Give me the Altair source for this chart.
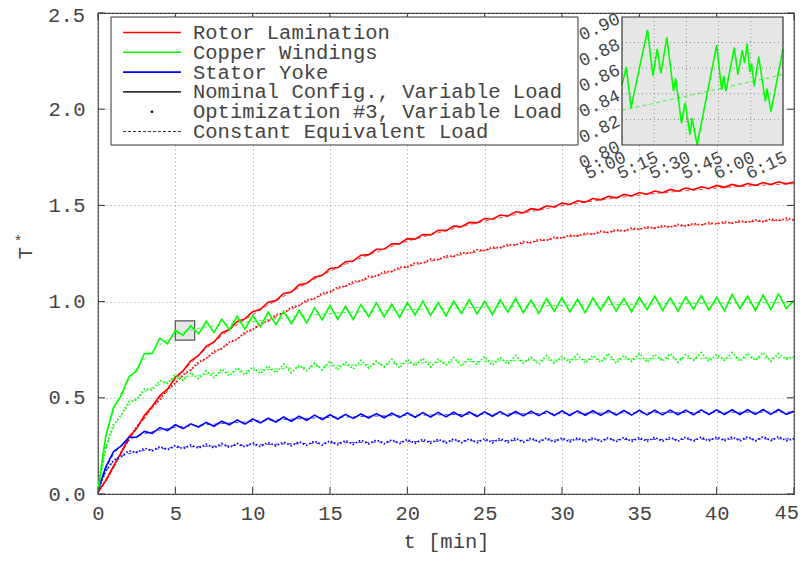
import altair as alt
import pandas as pd

# ---------------- data ----------------
t_fine = [i * 0.5 for i in range(91)]  # sampling grid, minutes
t_coarse = [0, 0.5, 1, 1.5, 2, 3, 4, 5, 6, 7, 8, 10, 12, 15, 17.5, 20, 22.5, 25,
            27.5, 30, 32.5, 35, 37.5, 40, 42.5, 45]

rotor_nominal = [0.01, 0.07, 0.145, 0.215, 0.296, 0.34, 0.41, 0.455, 0.512, 0.545,
                 0.606, 0.64, 0.692, 0.72, 0.767, 0.79, 0.837, 0.855, 0.897, 0.91,
                 0.947, 0.96, 0.997, 1.005, 1.042, 1.05, 1.087, 1.095, 1.127, 1.137,
                 1.172, 1.177, 1.207, 1.211, 1.241, 1.244, 1.272, 1.273, 1.30, 1.301,
                 1.327, 1.325, 1.349, 1.347, 1.371, 1.369, 1.392, 1.389, 1.412, 1.409,
                 1.432, 1.428, 1.45, 1.445, 1.467, 1.462, 1.483, 1.477, 1.498, 1.492,
                 1.512, 1.505, 1.524, 1.517, 1.536, 1.529, 1.547, 1.539, 1.557, 1.549,
                 1.567, 1.558, 1.575, 1.566, 1.583, 1.574, 1.59, 1.581, 1.597, 1.588,
                 1.604, 1.594, 1.609, 1.599, 1.614, 1.604, 1.619, 1.608, 1.623, 1.612,
                 1.622]
rotor_opt3 = [0.01, 0.068, 0.138, 0.218, 0.282, 0.35, 0.396, 0.456, 0.49, 0.547,
              0.575, 0.621, 0.645, 0.686, 0.705, 0.741, 0.755, 0.79, 0.804, 0.841,
              0.855, 0.887, 0.9, 0.931, 0.94, 0.97, 0.98, 1.009, 1.015, 1.043,
              1.05, 1.076, 1.079, 1.104, 1.107, 1.131, 1.132, 1.155, 1.156, 1.179,
              1.18, 1.201, 1.20, 1.22, 1.218, 1.238, 1.235, 1.254, 1.251, 1.269,
              1.265, 1.283, 1.279, 1.297, 1.293, 1.311, 1.306, 1.323, 1.318, 1.335,
              1.33, 1.346, 1.34, 1.356, 1.35, 1.366, 1.359, 1.374, 1.367, 1.382,
              1.375, 1.389, 1.381, 1.395, 1.387, 1.401, 1.393, 1.406, 1.398, 1.411,
              1.403, 1.416, 1.407, 1.42, 1.412, 1.425, 1.416, 1.429, 1.42, 1.433,
              1.424]
copper_nominal = [0.02, 0.30, 0.45, 0.51, 0.61, 0.64, 0.73, 0.73, 0.81, 0.78,
                  0.85, 0.825, 0.875, 0.832, 0.898, 0.839, 0.909, 0.854, 0.923, 0.857,
                  0.926, 0.87, 0.945, 0.88, 0.95, 0.885, 0.955, 0.89, 0.968, 0.906,
                  0.98, 0.907, 0.975, 0.907, 0.985, 0.922, 0.993, 0.92, 0.986, 0.918,
                  0.995, 0.931, 1.002, 0.928, 0.995, 0.926, 1.002, 0.938, 1.01, 0.936,
                  1.002, 0.933, 1.009, 0.945, 1.016, 0.942, 1.008, 0.939, 1.015, 0.95,
                  1.02, 0.946, 1.012, 0.943, 1.019, 0.955, 1.025, 0.951, 1.016, 0.947,
                  1.022, 0.958, 1.028, 0.954, 1.019, 0.95, 1.025, 0.96, 1.031, 0.956,
                  1.022, 0.952, 1.038, 0.963, 1.028, 0.954, 1.034, 0.959, 1.04, 0.965,
                  1.005]
copper_opt3 = [0.02, 0.24, 0.36, 0.41, 0.48, 0.49, 0.545, 0.54, 0.59, 0.575,
               0.62, 0.59, 0.63, 0.60, 0.64, 0.605, 0.65, 0.615, 0.655, 0.62,
               0.66, 0.625, 0.665, 0.63, 0.675, 0.63, 0.67, 0.64, 0.68, 0.645,
               0.69, 0.645, 0.685, 0.65, 0.695, 0.655, 0.69, 0.66, 0.70, 0.655,
               0.70, 0.665, 0.705, 0.66, 0.70, 0.67, 0.71, 0.665, 0.705, 0.675,
               0.715, 0.67, 0.71, 0.675, 0.72, 0.68, 0.71, 0.675, 0.72, 0.68,
               0.715, 0.685, 0.725, 0.68, 0.72, 0.685, 0.73, 0.68, 0.72, 0.69,
               0.73, 0.685, 0.725, 0.69, 0.73, 0.685, 0.725, 0.695, 0.735, 0.69,
               0.725, 0.695, 0.735, 0.69, 0.73, 0.695, 0.735, 0.69, 0.73, 0.70,
               0.715]
yoke_nominal = [0.02, 0.14, 0.22, 0.25, 0.295, 0.295, 0.325, 0.315, 0.345, 0.33,
                0.36, 0.34, 0.365, 0.348, 0.372, 0.352, 0.378, 0.36, 0.385, 0.363,
                0.39, 0.37, 0.394, 0.374, 0.40, 0.378, 0.404, 0.383, 0.41, 0.387,
                0.412, 0.39, 0.414, 0.393, 0.416, 0.395, 0.418, 0.396, 0.42, 0.398,
                0.422, 0.399, 0.423, 0.40, 0.424, 0.401, 0.425, 0.402, 0.426, 0.403,
                0.427, 0.404, 0.428, 0.405, 0.429, 0.406, 0.43, 0.407, 0.431, 0.408,
                0.432, 0.408, 0.432, 0.409, 0.433, 0.409, 0.434, 0.41, 0.434, 0.41,
                0.435, 0.411, 0.435, 0.411, 0.436, 0.412, 0.436, 0.412, 0.437, 0.413,
                0.437, 0.413, 0.438, 0.413, 0.438, 0.414, 0.439, 0.414, 0.439, 0.414,
                0.43]
yoke_opt3 = [0.02, 0.12, 0.175, 0.195, 0.225, 0.215, 0.238, 0.225, 0.246, 0.23,
             0.252, 0.235, 0.255, 0.238, 0.258, 0.24, 0.262, 0.242, 0.263, 0.245,
             0.266, 0.246, 0.268, 0.25, 0.27, 0.251, 0.272, 0.253, 0.275, 0.255,
             0.276, 0.256, 0.278, 0.258, 0.28, 0.26, 0.281, 0.261, 0.282, 0.262,
             0.284, 0.263, 0.285, 0.264, 0.285, 0.265, 0.287, 0.266, 0.287, 0.267,
             0.288, 0.267, 0.289, 0.268, 0.29, 0.269, 0.29, 0.27, 0.291, 0.27,
             0.292, 0.271, 0.292, 0.271, 0.293, 0.272, 0.293, 0.272, 0.294, 0.273,
             0.294, 0.273, 0.295, 0.274, 0.295, 0.274, 0.296, 0.275, 0.296, 0.275,
             0.297, 0.276, 0.297, 0.276, 0.298, 0.276, 0.298, 0.277, 0.298, 0.277,
             0.288]

rotor_nominal_const = [0.01, 0.068, 0.138, 0.212, 0.285, 0.40, 0.503, 0.594, 0.68, 0.755,
                       0.822, 0.932, 1.027, 1.158, 1.242, 1.313, 1.368, 1.418, 1.46,
                       1.498, 1.528, 1.553, 1.573, 1.59, 1.603, 1.613]
rotor_opt3_const = [0.01, 0.066, 0.138, 0.21, 0.28, 0.395, 0.49, 0.575, 0.645, 0.705,
                    0.757, 0.855, 0.94, 1.05, 1.12, 1.18, 1.227, 1.267, 1.302, 1.332,
                    1.357, 1.377, 1.393, 1.405, 1.416, 1.425]
copper_nominal_const = [0.02, 0.29, 0.43, 0.525, 0.595, 0.70, 0.775, 0.827, 0.852, 0.868,
                        0.879, 0.897, 0.915, 0.938, 0.95, 0.958, 0.965, 0.971, 0.976,
                        0.98, 0.984, 0.987, 0.99, 0.992, 0.994, 0.995]
copper_opt3_const = [0.02, 0.23, 0.345, 0.41, 0.46, 0.53, 0.57, 0.597, 0.612, 0.622,
                     0.63, 0.642, 0.652, 0.666, 0.673, 0.68, 0.685, 0.69, 0.694, 0.697,
                     0.70, 0.702, 0.704, 0.706, 0.707, 0.708]
yoke_nominal_const = [0.02, 0.13, 0.205, 0.25, 0.28, 0.312, 0.332, 0.346, 0.354, 0.36,
                      0.366, 0.377, 0.387, 0.398, 0.404, 0.409, 0.412, 0.415, 0.417,
                      0.419, 0.421, 0.422, 0.423, 0.424, 0.425, 0.426]
yoke_opt3_const = [0.02, 0.115, 0.168, 0.195, 0.21, 0.226, 0.235, 0.242, 0.245, 0.248,
                   0.25, 0.255, 0.26, 0.265, 0.269, 0.272, 0.275, 0.277, 0.279, 0.281,
                   0.282, 0.283, 0.284, 0.285, 0.286, 0.287]

# inset (Copper Windings, nominal, 5:00 - 6:15), time in seconds
inset_t = [300, 302, 304.2, 311.9, 314.4, 316.4, 318.1, 320.9, 324, 325, 327.7, 329.4,
           331.7, 332.6, 335, 344.1, 346.4, 347.4, 348.4, 352.3, 354, 356, 357.1, 358.3,
           359.5, 360.3, 361.6, 363.7, 366.8, 367.6, 369.4, 375]
inset_v = [0.847, 0.861, 0.829, 0.890, 0.854, 0.875, 0.856, 0.884, 0.842, 0.852, 0.817,
           0.833, 0.808, 0.821, 0.800, 0.878, 0.843, 0.854, 0.842, 0.876, 0.855, 0.874,
           0.864, 0.879, 0.857, 0.864, 0.846, 0.869, 0.834, 0.844, 0.826, 0.875]
inset_const_t = [300, 375]
inset_const_v = [0.827, 0.855]

x_ticks = [0, 5, 10, 15, 20, 25, 30, 35, 40, 45]
y_ticks = [0.0, 0.5, 1.0, 1.5, 2.0, 2.5]
inset_x_ticks = [300, 315, 330, 345, 360, 375]
inset_x_labels = ["5:00", "5:15", "5:30", "5:45", "6:00", "6:15"]
inset_y_ticks = [0.80, 0.82, 0.84, 0.86, 0.88, 0.90]

legend_labels = ["Rotor Lamination", "Copper Windings", "Stator Yoke",
                 "Nominal Config., Variable Load", "Optimization #3, Variable Load",
                 "Constant Equivalent Load"]

# ---------------- styling ----------------
FONT = "Liberation Mono"
FS = 20.5
TXT = "#444444"
FRAME = "#333333"
W, H = 696, 481
RED, GREEN, BLUE = "#ff0000", "#00ff00", "#0000ff"

xs = alt.Scale(domain=[0, 45], nice=False, zero=False)
ys = alt.Scale(domain=[0, 2.5], nice=False, zero=False)
# last x label (45) and top y label (2.5) are drawn separately, nudged to stay on the page
xax = alt.Axis(values=x_ticks, title="t [min]", grid=True,
               labelExpr="datum.value >= 45 ? '' : format(datum.value, 'd')",
               gridDash=[1, 3], gridColor="#999999", gridWidth=1, domain=False,
               ticks=False, tickSize=0, labelFont=FONT, labelFontSize=FS,
               labelColor=TXT, labelPadding=9, labelFlush=False, titleFont=FONT,
               titleFontSize=FS, titleFontWeight="normal", titleColor=TXT,
               titlePadding=8)
yax = alt.Axis(values=y_ticks, title="", grid=True,
               labelExpr="datum.value >= 2.5 ? '' : format(datum.value, '.1f')",
               gridDash=[1, 3], gridColor="#999999", gridWidth=1, domain=False,
               ticks=False, tickSize=0, labelFont=FONT, labelFontSize=FS,
               labelColor=TXT, labelPadding=13, labelFlush=False)


def X(f="t:Q"):
    return alt.X(f, scale=xs, axis=xax)


def Y(f="v:Q"):
    return alt.Y(f, scale=ys, axis=yax)


def line(tl, vl, color, dash=None, width=1.5, opacity=1.0, interp="linear"):
    df = pd.DataFrame({"t": tl, "v": vl})
    kw = dict(color=color, strokeWidth=width, opacity=opacity, clip=True,
              interpolate=interp)
    if dash:
        kw["strokeDash"] = dash
    return alt.Chart(df).mark_line(**kw).encode(x=X(), y=Y())


main_layers = []

# zoom box
zb = pd.DataFrame({"x0": [inset_x_ticks[0] / 60], "x1": [inset_x_ticks[-1] / 60],
                   "y0": [inset_y_ticks[0]], "y1": [inset_y_ticks[-1]]})
main_layers.append(alt.Chart(zb).mark_rect(fill="#e6e6e6", stroke="#555555",
                                           strokeWidth=1.2)
                   .encode(x=X("x0:Q"), x2="x1", y=Y("y0:Q"), y2="y1"))

series = [
    (rotor_nominal, rotor_opt3, rotor_nominal_const, rotor_opt3_const, RED),
    (yoke_nominal, yoke_opt3, yoke_nominal_const, yoke_opt3_const, BLUE),
    (copper_nominal, copper_opt3, copper_nominal_const, copper_opt3_const, GREEN),
]
for nom, opt, nomc, optc, col in series:
    main_layers.append(line(t_coarse, nomc, col, dash=[4, 3], width=1, opacity=0.75,
                            interp="monotone"))
    main_layers.append(line(t_coarse, optc, col, dash=[4, 3], width=1, opacity=0.75,
                            interp="monotone"))
    main_layers.append(line(t_fine, opt, col, dash=[1.5, 2], width=1.8))
    main_layers.append(line(t_fine, nom, col, width=1.6))

# inward ticks (mirrored)
xt = pd.DataFrame({"t": x_ticks})
yt = pd.DataFrame({"v": y_ticks})
main_layers.append(alt.Chart(xt).mark_rule(color=FRAME, strokeWidth=1)
                   .encode(x=X(), y=alt.value(H), y2=alt.value(H - 7)))
main_layers.append(alt.Chart(xt).mark_rule(color=FRAME, strokeWidth=1)
                   .encode(x=X(), y=alt.value(0), y2=alt.value(7)))
main_layers.append(alt.Chart(yt).mark_rule(color=FRAME, strokeWidth=1)
                   .encode(y=Y(), x=alt.value(0), x2=alt.value(7)))
main_layers.append(alt.Chart(yt).mark_rule(color=FRAME, strokeWidth=1)
                   .encode(y=Y(), x=alt.value(W - 7), x2=alt.value(W)))

# edge labels
top_lab = pd.DataFrame({"v": [y_ticks[-1]], "lab": [f"{y_ticks[-1]:.1f}"]})
main_layers.append(alt.Chart(top_lab).mark_text(align="right", baseline="middle",
                                                font=FONT, fontSize=FS, color=TXT, dy=3)
                   .encode(y=Y(), x=alt.value(-13), text="lab:N"))
last_lab = pd.DataFrame({"t": [x_ticks[-1]], "lab": [str(x_ticks[-1])]})
main_layers.append(alt.Chart(last_lab).mark_text(align="right", baseline="top",
                                                 font=FONT, fontSize=FS, color=TXT,
                                                 dx=5)
                   .encode(x=X(), y=alt.value(H + 9), text="lab:N"))

# legend
one = pd.DataFrame({"a": [0]})
main_layers.append(alt.Chart(one).mark_rect(fill="white", stroke=FRAME, strokeWidth=1)
                   .encode(x=alt.value(13), x2=alt.value(480), y=alt.value(4),
                           y2=alt.value(132)))
legend_styles = [("line", RED), ("line", GREEN), ("line", BLUE), ("line", "#333333"),
                 ("dot", "#000000"), ("dash", "#333333")]
for i, (lab, (kind, col)) in enumerate(zip(legend_labels, legend_styles)):
    yy = 19.5 + 19.8 * i
    if kind == "line":
        main_layers.append(alt.Chart(one).mark_rule(color=col, strokeWidth=1.6)
                           .encode(x=alt.value(25), x2=alt.value(83), y=alt.value(yy)))
    elif kind == "dash":
        main_layers.append(alt.Chart(one).mark_rule(color=col, strokeWidth=1,
                                                    strokeDash=[3, 2])
                           .encode(x=alt.value(25), x2=alt.value(83), y=alt.value(yy)))
    else:
        main_layers.append(alt.Chart(one).mark_circle(color=col, size=7, opacity=1)
                           .encode(x=alt.value(54), y=alt.value(yy)))
    main_layers.append(alt.Chart(one).mark_text(align="left", baseline="alphabetic",
                                                font=FONT, fontSize=FS, color=TXT)
                       .encode(x=alt.value(95), y=alt.value(yy + 6.5),
                               text=alt.value(lab)))

# y title T*
main_layers.append(alt.Chart(one).mark_text(angle=270, align="center", baseline="middle",
                                            font=FONT, fontSize=FS, color=TXT)
                   .encode(x=alt.value(-72), y=alt.value(240), text=alt.value("T")))
main_layers.append(alt.Chart(one).mark_text(align="center", baseline="middle",
                                            font=FONT, fontSize=15, color=TXT)
                   .encode(x=alt.value(-80), y=alt.value(228), text=alt.value("*")))

main = alt.layer(*main_layers)

# ---------------- inset ----------------
IX0, IX1, IY0, IY1 = 524, 685, 4, 132
ixs = alt.Scale(domain=[inset_x_ticks[0], inset_x_ticks[-1]], range=[IX0, IX1],
                nice=False, zero=False)
iys = alt.Scale(domain=[inset_y_ticks[0], inset_y_ticks[-1]], range=[IY1, IY0],
                nice=False, zero=False)


def IX(f):
    return alt.X(f, scale=ixs, axis=None)


def IY(f):
    return alt.Y(f, scale=iys, axis=None)


inset_layers = []
ib = pd.DataFrame({"x0": [inset_x_ticks[0]], "x1": [inset_x_ticks[-1]],
                   "y0": [inset_y_ticks[0]], "y1": [inset_y_ticks[-1]]})
inset_layers.append(alt.Chart(ib).mark_rect(fill="#e6e6e6")
                    .encode(x=IX("x0:Q"), x2="x1", y=IY("y0:Q"), y2="y1"))
inset_layers.append(alt.Chart(pd.DataFrame({"s": inset_x_ticks[1:-1]}))
                    .mark_rule(color="#888888", strokeDash=[1, 3], strokeWidth=1)
                    .encode(x=IX("s:Q"), y=alt.value(IY0), y2=alt.value(IY1)))
inset_layers.append(alt.Chart(pd.DataFrame({"v": inset_y_ticks[1:-1]}))
                    .mark_rule(color="#888888", strokeDash=[1, 3], strokeWidth=1)
                    .encode(y=IY("v:Q"), x=alt.value(IX0), x2=alt.value(IX1)))
inset_layers.append(alt.Chart(pd.DataFrame({"s": inset_const_t, "v": inset_const_v}))
                    .mark_line(color=GREEN, strokeWidth=1, strokeDash=[4, 3], opacity=0.75)
                    .encode(x=IX("s:Q"), y=IY("v:Q")))
inset_layers.append(alt.Chart(pd.DataFrame({"s": inset_t, "v": inset_v}))
                    .mark_line(color=GREEN, strokeWidth=1.6)
                    .encode(x=IX("s:Q"), y=IY("v:Q")))
inset_layers.append(alt.Chart(ib).mark_rect(fill=None, stroke=FRAME, strokeWidth=1.2)
                    .encode(x=IX("x0:Q"), x2="x1", y=IY("y0:Q"), y2="y1"))
inset_layers.append(alt.Chart(pd.DataFrame({"s": inset_x_ticks, "lab": inset_x_labels}))
                    .mark_text(angle=335, align="right", baseline="top", font=FONT,
                               fontSize=18, color=TXT, dx=-2, dy=3)
                    .encode(x=IX("s:Q"), y=alt.value(IY1), text="lab:N"))
inset_layers.append(alt.Chart(pd.DataFrame({"v": inset_y_ticks}))
                    .mark_text(angle=335, align="right", baseline="middle", font=FONT,
                               fontSize=18, color=TXT, dx=-3)
                    .encode(y=IY("v:Q"), x=alt.value(IX0), text=alt.Text("v:Q", format=".2f")))

inset = alt.layer(*inset_layers)

chart = (alt.layer(main, inset)
         .resolve_scale(x="independent", y="independent")
         .properties(width=W, height=H,
                     padding={"left": 90, "top": 5, "right": 5, "bottom": 60},
                     autosize=alt.AutoSizeParams(type="none"),
                     background="white")
         .configure_view(stroke=FRAME, strokeWidth=1.2))

chart.save("out.html", embed_options={"renderer": "svg", "actions": False})
